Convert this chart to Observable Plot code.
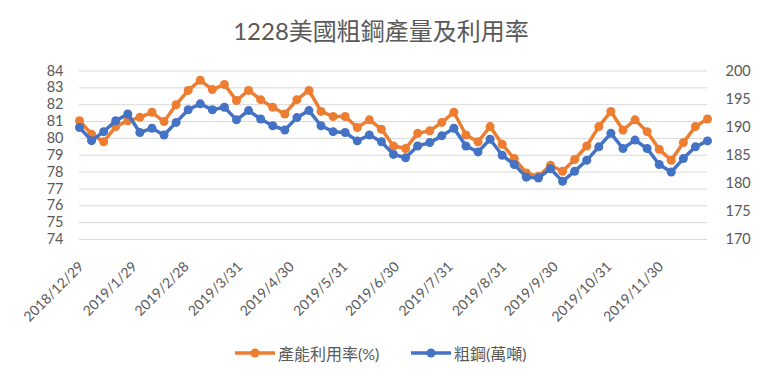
<!DOCTYPE html>
<html><head><meta charset="utf-8">
<script src="https://cdn.jsdelivr.net/npm/d3@7"></script>
<script src="https://cdn.jsdelivr.net/npm/@observablehq/plot@0.6"></script>
<style>
body{margin:0;background:#fff;}
#wrap{position:relative;width:762px;height:379px;overflow:hidden;font-family:Lato,"Noto Sans CJK TC",sans-serif;color:#595959;background:#fff;}
#title{position:absolute;top:17px;left:0;width:762px;text-align:center;font-size:24px;line-height:28px;color:#595959;}
#chart{position:absolute;top:0;left:0;}
.leg{position:absolute;top:343px;height:20px;display:flex;align-items:center;font-size:16px;color:#595959;white-space:nowrap;}
.leg svg{display:block;}
</style>
</head><body>
<div id="wrap">
  <div id="chart"></div>
  <div id="title"></div>
  <div id="leg1" class="leg"></div>
  <div id="leg2" class="leg"></div>
</div>
<script>
const titleText = "1228美國粗鋼產量及利用率";
const dates = ["2018-12-29","2019-01-05","2019-01-12","2019-01-19","2019-01-26","2019-02-02","2019-02-09","2019-02-16","2019-02-23","2019-03-02","2019-03-09","2019-03-16","2019-03-23","2019-03-30","2019-04-06","2019-04-13","2019-04-20","2019-04-27","2019-05-04","2019-05-11","2019-05-18","2019-05-25","2019-06-01","2019-06-08","2019-06-15","2019-06-22","2019-06-29","2019-07-06","2019-07-13","2019-07-20","2019-07-27","2019-08-03","2019-08-10","2019-08-17","2019-08-24","2019-08-31","2019-09-07","2019-09-14","2019-09-21","2019-09-28","2019-10-05","2019-10-12","2019-10-19","2019-10-26","2019-11-02","2019-11-09","2019-11-16","2019-11-23","2019-11-30","2019-12-07","2019-12-14","2019-12-21","2019-12-28"];
const utilization = [81.05,80.25,79.8,80.7,81.05,81.25,81.55,81.0,82.0,82.85,83.45,82.9,83.2,82.25,82.85,82.3,81.85,81.45,82.3,82.85,81.6,81.3,81.3,80.65,81.1,80.55,79.55,79.4,80.3,80.45,80.95,81.55,80.2,79.8,80.7,79.65,78.8,77.95,77.75,78.4,78.05,78.75,79.55,80.7,81.6,80.5,81.1,80.4,79.35,78.7,79.75,80.7,81.15];
const steel = [189.95,187.6,189.2,191.15,192.35,189.05,189.8,188.6,190.85,193.1,194.15,193.1,193.55,191.3,192.95,191.45,190.25,189.5,191.7,192.95,190.25,189.2,189.05,187.55,188.6,187.4,185.15,184.55,186.65,187.25,188.45,189.8,186.65,185.6,187.85,185.0,183.35,181.1,180.95,182.6,180.35,182.15,184.1,186.5,188.9,186.2,187.7,186.2,183.35,182.0,184.4,186.5,187.55];
const tickDates = ["2018-12-29","2019-01-29","2019-02-28","2019-03-31","2019-04-30","2019-05-31","2019-06-30","2019-07-31","2019-08-31","2019-09-30","2019-10-31","2019-11-30"];
const leftTicks = [74,75,76,77,78,79,80,81,82,83,84];
const rightTicks = [170,175,180,185,190,195,200];
const seriesNames = ["產能利用率(%)","粗鋼(萬噸)"];
const colors = ["#ED7D31","#4472C4"];

const parse = d3.utcParse("%Y-%m-%d");
const rows = dates.map((d,i)=>({date: parse(d), util: utilization[i], steel: steel[i]}));
const toLeft = v => 74 + (v - 170) / 3;
const fmtDate = d => `${d.getUTCFullYear()}/${d.getUTCMonth()+1}/${d.getUTCDate()}`;

document.getElementById("title").textContent = titleText;

const chart = Plot.plot({
  width: 762, height: 340,
  marginLeft: 79, marginRight: 55, marginTop: 70.5, marginBottom: 101,
  style: {fontFamily: 'Lato,"Noto Sans CJK TC",sans-serif', fontSize: "14.5px", color: "#595959", background: "transparent"},
  x: {type: "utc", domain: [parse(dates[0]), parse(dates[dates.length-1])], axis: null},
  y: {domain: [74, 84], axis: null},
  marks: [
    Plot.ruleY(leftTicks, {stroke: "#d9d9d9", strokeWidth: 1}),
    Plot.axisY(leftTicks, {anchor: "left", label: null, tickSize: 0, tickPadding: 16, tickFormat: d => String(d)}),
    Plot.axisY(rightTicks.map(toLeft), {anchor: "right", label: null, tickSize: 0, tickPadding: 18, tickFormat: d => String(Math.round(170 + 3 * (d - 74)))}),
    Plot.line(rows, {x: "date", y: "util", stroke: colors[0], strokeWidth: 3.5}),
    Plot.dot(rows, {x: "date", y: "util", fill: colors[0], r: 4.5}),
    Plot.line(rows, {x: "date", y: d => toLeft(d.steel), stroke: colors[1], strokeWidth: 3.5}),
    Plot.dot(rows, {x: "date", y: d => toLeft(d.steel), fill: colors[1], r: 4.5}),
    Plot.text(tickDates.map(parse), {x: d => d, frameAnchor: "bottom", dy: 28, dx: 5, rotate: -45, textAnchor: "end", text: fmtDate, fontSize: 14, fill: "#595959"})
  ]
});
document.getElementById("chart").appendChild(chart);

function legendItem(el, left, color, label) {
  el.style.left = left + "px";
  el.innerHTML = `<svg width="40" height="20"><line x1="0" x2="40" y1="10" y2="10" stroke="${color}" stroke-width="3.5"/><circle cx="20" cy="10" r="4.5" fill="${color}"/></svg><span style="margin-left:3px">${label}</span>`;
}
legendItem(document.getElementById("leg1"), 235, colors[0], seriesNames[0]);
legendItem(document.getElementById("leg2"), 411, colors[1], seriesNames[1]);
</script>
</body></html>
